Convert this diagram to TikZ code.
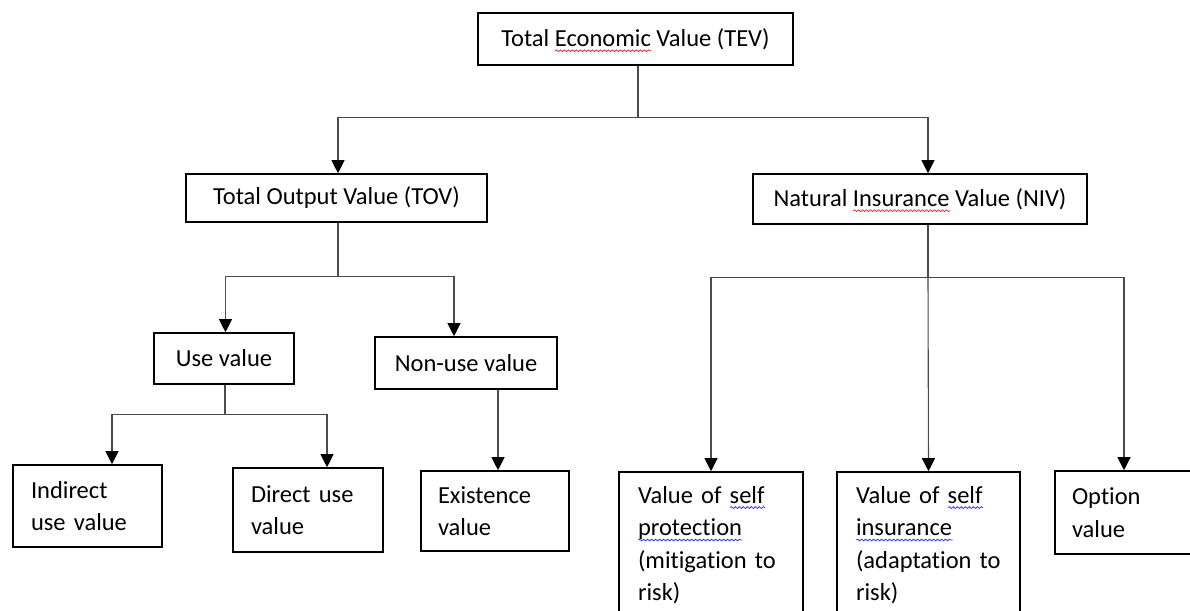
\documentclass[tikz,border=0pt]{standalone}
\usepackage{fontspec}
\setmainfont{Carlito}[Ligatures=NoCommon]
\usetikzlibrary{arrows.meta,decorations.pathmorphing}
\definecolor{conncol}{RGB}{75,75,75}
\definecolor{wavered}{RGB}{230,30,30}
\definecolor{waveblue}{RGB}{40,40,230}
\newlength\wavw
\newcommand\wav[2]{\leavevmode\settowidth\wavw{#2}\rlap{\smash{\tikz[baseline=0pt]\draw[#1,line width=0.7pt,decorate,decoration={snake,amplitude=0.9pt,segment length=4pt}] (0pt,-4.5pt) -- (\wavw,-4.5pt);}}#2}
\tikzset{
  box/.style={draw=black, line width=1.6pt, inner sep=0pt, fill=white,
    font=\fontsize{24.5}{32.5}\selectfont},
  mbox/.style={box, align=left, inner ysep=0pt},
  conn/.style={draw=conncol, line width=1.1pt},
  arr/.style={conn, -{Triangle[width=13pt,length=13pt,color=black]}}
}
\begin{document}
\begin{tikzpicture}[x=1pt,y=-1pt]
\useasboundingbox (0,0) rectangle (1190,610);
\clip (0,0) rectangle (1190,610);
% top level
\node[box, minimum width=315pt, minimum height=52pt] (tev) at (635.5,39) {Total \wav{wavered}{Economic} Value (TEV)};
\node[box, minimum width=301pt, minimum height=48pt] (tov) at (336.5,198) {Total Output Value (TOV)};
\node[box, minimum width=334pt, minimum height=50pt] (niv) at (920,199) {Natural \wav{wavered}{Insurance} Value (NIV)};
% second level
\node[box, minimum width=140pt, minimum height=51pt] (use) at (224,358.5) {Use value};
\node[box, minimum width=182pt, minimum height=52pt] (nonuse) at (466,363) {Non-use value};
% leaves
\node[mbox, inner xsep=18pt, text width=113pt, minimum height=82pt] (indirect) at (87.5,506) {Indirect\\use value};
\node[mbox, inner xsep=18pt, text width=114pt, minimum height=84pt] (direct) at (308,510) {Direct use\\value};
\node[mbox, inner xsep=17pt, text width=114pt, minimum height=80pt] (exist) at (495,511) {Existence\\value};
\node[mbox, inner xsep=19pt, text width=146pt, minimum height=146pt] (prot) at (711,545) {Value of \wav{waveblue}{self}\\\wav{waveblue}{protection}\\(mitigation to\\risk)};
\node[mbox, inner xsep=19pt, text width=145pt, minimum height=146pt] (ins) at (928.5,545) {Value of \wav{waveblue}{self}\\\wav{waveblue}{insurance}\\(adaptation to\\risk)};
\node[mbox, inner xsep=17pt, text width=136pt, minimum height=83pt] (opt) at (1140,512.5) {Option\\value};
% connectors
\draw[conn] ([xshift=2.5pt]tev.south) -- ++(0,52) coordinate (j1);
\draw[arr] (j1) -| ([xshift=1.5pt]tov.north);
\draw[arr] (j1) -| ([xshift=8pt]niv.north);
\draw[conn] ([xshift=1.5pt]tov.south) -- ++(0,54) coordinate (j2);
\draw[arr] (j2) -| ([xshift=1.5pt]use.north);
\draw[arr] (j2) -| ([xshift=-12pt]nonuse.north);
\draw[conn] ([xshift=1pt]use.south) -- ++(0,30) coordinate (j3);
\draw[arr] (j3) -| ([xshift=24.5pt]indirect.north);
\draw[arr] (j3) -| ([xshift=19pt]direct.north);
\draw[arr] ([xshift=32pt]nonuse.south) -- ([xshift=32pt]nonuse.south |- exist.north);
\draw[conn] ([xshift=8pt]niv.south) -- ++(0,53) coordinate (j4);
\draw[arr] (j4) -| (prot.north);
\draw[arr] (j4) -- (ins.north);
\draw[arr] (j4) -| ([xshift=-16pt]opt.north);
\end{tikzpicture}
\end{document}
